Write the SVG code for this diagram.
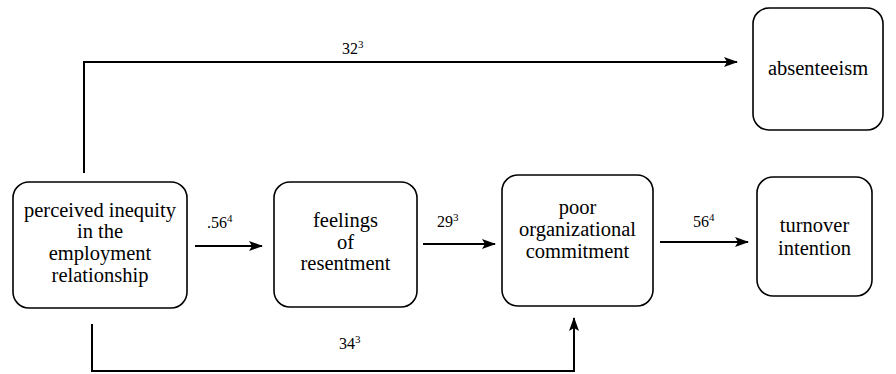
<svg xmlns="http://www.w3.org/2000/svg" width="896" height="374" viewBox="0 0 896 374">
<defs>
<marker id="ah" viewBox="0 0 14 10" refX="13" refY="5" markerWidth="14" markerHeight="10" markerUnits="userSpaceOnUse" orient="auto">
<path d="M0,0 L14,5 L0,10 L3,5 Z" fill="#000"/>
</marker>
</defs>
<style>
.box{fill:#fff;stroke:#000;stroke-width:1.6}
.t{font-family:"Liberation Serif","Times New Roman",serif;font-size:20.5px;fill:#000;text-anchor:middle}
.lbl{font-family:"Liberation Serif","Times New Roman",serif;font-size:16px;fill:#000;text-anchor:start}
.sup{font-size:11px}
.c{fill:none;stroke:#000;stroke-width:2}
</style>
<rect width="896" height="374" fill="#fff"/>
<g id="connectors">
<path class="c" d="M84,173 L84,62 L737,62" marker-end="url(#ah)"/>
<path class="c" d="M195,246 L262,246" marker-end="url(#ah)"/>
<path class="c" d="M423,244 L495,244" marker-end="url(#ah)"/>
<path class="c" d="M660,242 L748,242" marker-end="url(#ah)"/>
<path class="c" d="M92,324 L92,371 L574,371 L574,318" marker-end="url(#ah)"/>
<text class="lbl" x="342" y="54">32<tspan class="sup" dy="-6">3</tspan></text>
<text class="lbl" x="207" y="228">.56<tspan class="sup" dy="-6">4</tspan></text>
<text class="lbl" x="437" y="227">29<tspan class="sup" dy="-6">3</tspan></text>
<text class="lbl" x="693" y="227">56<tspan class="sup" dy="-6">4</tspan></text>
<text class="lbl" x="339" y="349">34<tspan class="sup" dy="-6">3</tspan></text>
</g>
<g id="inequity">
<rect class="box" x="13" y="182" width="174" height="126" rx="16"/>
<text class="t" x="100" y="217">perceived inequity</text>
<text class="t" x="100" y="238">in the</text>
<text class="t" x="100" y="260">employment</text>
<text class="t" x="100" y="282">relationship</text>
</g>
<g id="resentment">
<rect class="box" x="274" y="182" width="143" height="125" rx="16"/>
<text class="t" x="345.5" y="227">feelings</text>
<text class="t" x="345.5" y="249">of</text>
<text class="t" x="345.5" y="270">resentment</text>
</g>
<g id="commitment">
<rect class="box" x="502" y="175" width="151" height="131" rx="16"/>
<text class="t" x="577.5" y="214">poor</text>
<text class="t" x="577.5" y="236">organizational</text>
<text class="t" x="577.5" y="258">commitment</text>
</g>
<g id="turnover">
<rect class="box" x="757" y="177" width="115" height="119" rx="16"/>
<text class="t" x="814.5" y="232">turnover</text>
<text class="t" x="814.5" y="255">intention</text>
</g>
<g id="absenteeism">
<rect class="box" x="753" y="8" width="130" height="122" rx="16"/>
<text class="t" x="818" y="75">absenteeism</text>
</g>
</svg>
